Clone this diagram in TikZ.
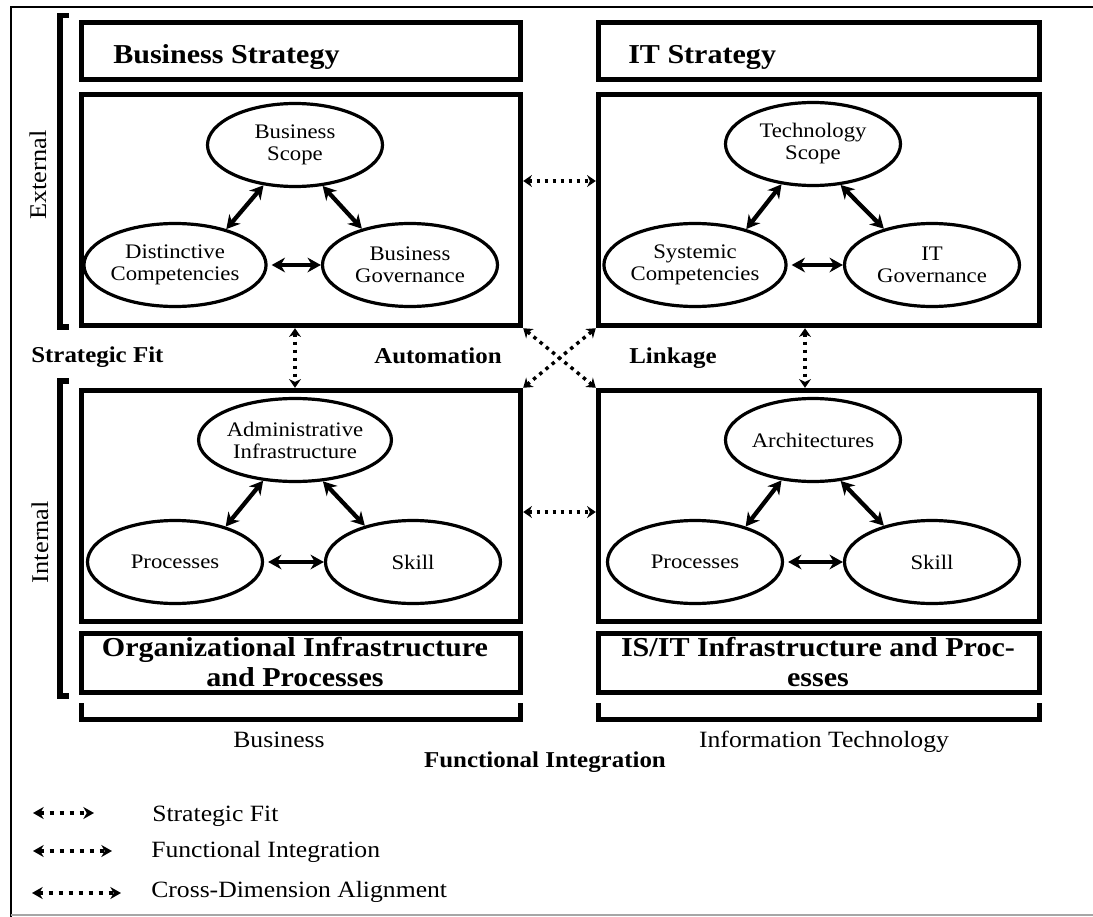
\documentclass[tikz,border=0pt]{standalone}
\usepackage{fontspec}
\setmainfont{Liberation Serif}[FakeStretch=1.1]
\usetikzlibrary{arrows.meta,shapes.geometric}
\newcommand\pxu{0.75pt}
\tikzset{
  box/.style={draw, rectangle, line width=4.1pt, inner sep=0pt},
  ell/.style={draw, ellipse, line width=2.4pt, minimum width=175*\pxu, minimum height=83*\pxu, inner sep=0pt, align=center, font=\fontsize{15.5}{16.5}\selectfont},
  headtxt/.style={font=\fontsize{20.5}{22.5}\selectfont\bfseries, inner sep=0pt, align=center},
  lbl/.style={font=\fontsize{17}{20}\selectfont\bfseries, inner sep=0pt},
  plaintxt/.style={font=\fontsize{17.5}{20}\selectfont, inner sep=0pt},
  sidetxt/.style={font=\fontsize{18}{20}\selectfont, inner sep=0pt, rotate=90},
  biarrow/.style={line width=3.2pt, {Stealth[length=10pt,width=11pt]}-{Stealth[length=10pt,width=11pt]}},
  dotarrow/.style={line width=2.6pt, dash pattern=on 2.6pt off 3.4pt, {Stealth[length=6.5pt,width=9pt]}-{Stealth[length=6.5pt,width=9pt]}},
  legarrow/.style={line width=3pt, dash pattern=on 3pt off 4.5pt, {Stealth[length=8pt,width=9pt]}-{Stealth[length=8pt,width=9pt]}},
  bracket/.style={line width=4.1pt, line join=miter},
  frame/.style={line width=1.1pt},
}
\begin{document}
\begin{tikzpicture}[x=0.75pt,y=-0.75pt]
\useasboundingbox (0,0) rectangle (1093,917);
% outer frame
\draw[frame] (11,917) -- (11,7) -- (1093,7);
\draw[frame, black!35] (11,915) -- (1093,915);

% boxes
\node[box, minimum width=439*\pxu, minimum height=57*\pxu] (bs) at (301,51) {};
\node[box, minimum width=439*\pxu, minimum height=231*\pxu] (bm) at (301,210) {};
\node[box, minimum width=441*\pxu, minimum height=57*\pxu] (is) at (819,51) {};
\node[box, minimum width=441*\pxu, minimum height=231*\pxu] (im) at (819,210) {};
\node[box, minimum width=439*\pxu, minimum height=231*\pxu] (bl) at (301,506) {};
\node[box, minimum width=441*\pxu, minimum height=231*\pxu] (il) at (819,506) {};
\node[box, minimum width=439*\pxu, minimum height=59*\pxu] (bi) at (301,663) {};
\node[box, minimum width=441*\pxu, minimum height=59*\pxu] (ii) at (819,663) {};

% headings
\node[headtxt, anchor=base west] (bst) at (113,64) {Business Strategy};
\node[headtxt, anchor=base west] (ist) at (628,64) {IT Strategy};
\node[headtxt] (bit) at (295,662.5) {Organizational Infrastructure\\and Processes};
\node[headtxt] (iit) at (818,662.5) {IS/IT Infrastructure and Proc-\\esses};

% brackets
\draw[bracket] (69,15.5) -- (60,15.5) -- (60,327) -- (69,327);
\draw[bracket] (69,381) -- (60,381) -- (60,696) -- (69,696);
\draw[bracket] (81.5,703) -- (81.5,719.5) -- (520.5,719.5) -- (520.5,703);
\draw[bracket] (598.5,703) -- (598.5,719.5) -- (1039.5,719.5) -- (1039.5,703);
\node[sidetxt] (ext) at (38,175) {External};
\node[sidetxt] (int) at (40,542) {Internal};

% ellipses: business strategy
\node[ell] (bsc) at (295,145) {Business\\Scope};
\node[ell] (bdc) at (175,265) {Distinctive\\Competencies};
\node[ell] (bgv) at (410,265) {Business\\Governance};
% IT strategy
\node[ell] (tsc) at (813,144) {Technology\\Scope};
\node[ell] (tsy) at (695,265) {Systemic\\Competencies};
\node[ell] (tgv) at (932,265) {IT\\Governance};
% org infrastructure
\node[ell] (oad) at (295,440) {Administrative\\Infrastructure};
\node[ell] (opr) at (175,562) {Processes};
\node[ell] (osk) at (413,562) {Skill};
% IS/IT infrastructure
\node[ell] (iar) at (813,440) {Architectures};
\node[ell] (ipr) at (695,562) {Processes};
\node[ell] (isk) at (932,562) {Skill};

% ellipse arrows
\foreach \t/\l/\r in {bsc/bdc/bgv, tsc/tsy/tgv, oad/opr/osk, iar/ipr/isk}{
  \draw[biarrow] (\t.232) -- (\l.35);
  \draw[biarrow] (\t.304) -- (\r.143);
  \draw[biarrow] ([xshift=3pt]\l.east) -- (\r.west);
}

% alignment arrows
\draw[dotarrow] ([yshift=29*\pxu]bm.east) -- ([yshift=29*\pxu]im.west);
\draw[dotarrow] ([yshift=-6*\pxu]bl.east) -- ([yshift=-6*\pxu]il.west);
\draw[dotarrow] ([xshift=-6*\pxu]bm.south) -- ([xshift=-6*\pxu]bl.north);
\draw[dotarrow] ([xshift=-14*\pxu]im.south) -- ([xshift=-14*\pxu]il.north);
\draw[dotarrow] (bm.south east) -- (il.north west);
\draw[dotarrow] (im.south west) -- (bl.north east);

% labels
\node[lbl, anchor=base west] (sfl) at (31,362) {Strategic Fit};
\node[lbl, anchor=base] (aut) at (438,363) {Automation};
\node[lbl, anchor=base] (lnk) at (673,363) {Linkage};
\node[plaintxt, anchor=base] (bus) at (279,747) {Business};
\node[plaintxt, anchor=base] (inf) at (824,747) {Information Technology};
\node[lbl, anchor=base] (fin) at (545,767) {Functional Integration};

% legend
\coordinate (l1a) at (33,813); \coordinate (l1b) at (94,813);
\coordinate (l2a) at (33,851); \coordinate (l2b) at (112,851);
\coordinate (l3a) at (32,893); \coordinate (l3b) at (121,893);
\draw[legarrow] (l1a) -- (l1b);
\draw[legarrow] (l2a) -- (l2b);
\draw[legarrow] (l3a) -- (l3b);
\node[plaintxt, anchor=base west] (lg1) at (152,821) {Strategic Fit};
\node[plaintxt, anchor=base west] (lg2) at (151,857) {Functional Integration};
\node[plaintxt, anchor=base west] (lg3) at (151,897) {Cross-Dimension Alignment};
\end{tikzpicture}
\end{document}
